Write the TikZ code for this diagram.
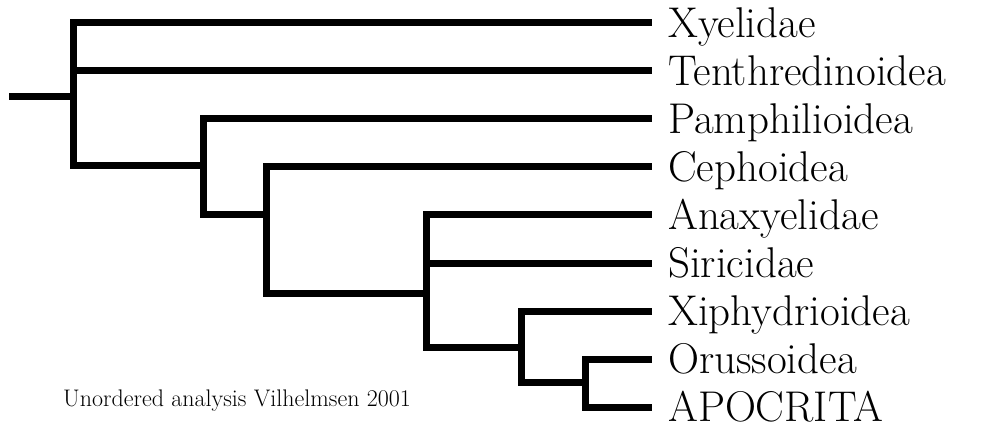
\documentclass[tikz,border=0pt]{standalone}
\usepackage{tikz}
\usetikzlibrary{positioning}

\tikzset{
	branch/.style={line width=7pt, line join=miter},
	leaf/.style={anchor=west, inner xsep=16pt, inner ysep=0pt, text height=29pt, text depth=0pt,
		font=\fontsize{43}{50}\selectfont}
}

\begin{document}
\begin{tikzpicture}[x=1pt, y=-1pt]
	\useasboundingbox (0,0) rectangle (995,430);
	\foreach \name/\txt [count=\i from 0] in {xyel/Xyelidae, tent/Tenthredinoidea, pamp/Pamphilioidea,
		ceph/Cephoidea, anax/Anaxyelidae, siri/Siricidae, xiph/Xiphydrioidea, orus/Orussoidea, apoc/APOCRITA}
		\node[leaf] (\name) at (652,{23+48*\i}) {\txt};
	\coordinate (root) at (9,97);
	\coordinate (n1) at (73,97);
	\coordinate (n2) at (203,166);
	\coordinate (n3) at (266,215);
	\coordinate (n4) at (426,293);
	\coordinate (n5) at (521,347);
	\coordinate (n6) at (585,382);
	\draw[branch] (root)--(n1);
	\draw[branch] (n1) |- (xyel.west);
	\draw[branch] (n1) |- (tent.west);
	\draw[branch] (n1) |- (n2);
	\draw[branch] (n2) |- (pamp.west);
	\draw[branch] (n2) |- (n3);
	\draw[branch] (n3) |- (ceph.west);
	\draw[branch] (n3) |- (n4);
	\draw[branch] (n4) |- (anax.west);
	\draw[branch] (n4) |- (siri.west);
	\draw[branch] (n4) |- (n5);
	\draw[branch] (n5) |- (xiph.west);
	\draw[branch] (n5) |- (n6);
	\draw[branch] (n6) |- (orus.west);
	\draw[branch] (n6) |- (apoc.west);
	\node[anchor=base west, inner sep=0pt, font=\fontsize{24}{28}\selectfont] (note) at (63,406) {Unordered analysis Vilhelmsen 2001};
\end{tikzpicture}
\end{document}
